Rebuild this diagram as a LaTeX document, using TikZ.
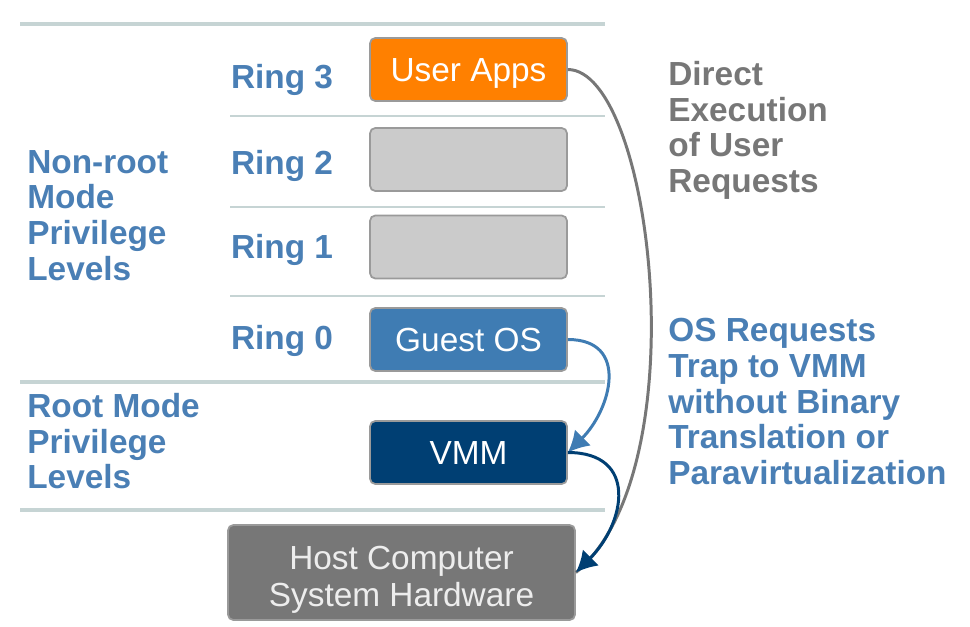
\documentclass[tikz,border=0pt]{standalone}
\usepackage{fontspec}
\setmainfont{Liberation Sans}
\usetikzlibrary{arrows.meta}
\definecolor{ringblue}{HTML}{4A7FB5}
\definecolor{guestblue}{HTML}{3F7CB3}
\definecolor{vmmblue}{HTML}{003F73}
\definecolor{appsorange}{HTML}{FF8000}
\definecolor{emptygray}{HTML}{CBCBCB}
\definecolor{hostgray}{HTML}{777777}
\definecolor{boxedge}{HTML}{9A9A9A}
\definecolor{sepline}{HTML}{C6D4D4}
\definecolor{notegray}{HTML}{777777}
\tikzset{ringlabel/.style={font=\fontsize{19pt}{20.3pt}\selectfont\bfseries,
        text=ringblue, inner sep=0pt},
    modelabel/.style={ringlabel, align=left, anchor=north west},
    levelbox/.style={draw=boxedge, line width=1pt, rounded corners=3pt,
        minimum width=3.94cm, minimum height=1.26cm, inner sep=0pt,
        text height=13.6pt, text depth=0pt,
        font=\fontsize{19pt}{21pt}\selectfont, text=white},
    septhick/.style={draw=sepline, line width=2.3pt},
    septhin/.style={draw=sepline, line width=1pt},
    trap/.style={line width=1.7pt, -{Latex[length=12pt,width=13pt]}},
    }
\begin{document}
\begin{tikzpicture}[x=0.02cm, y=-0.02cm]
\useasboundingbox (0,0) rectangle (970,626);
% separators
\draw[septhick] (20,24) -- (605,24);
\draw[septhin] (230,116) -- (605,116);
\draw[septhin] (230,207) -- (605,207);
\draw[septhin] (230,296) -- (605,296);
\draw[septhick] (20,382) -- (605,382);
\draw[septhick] (20,510) -- (605,510);
% rings
\node[levelbox, fill=appsorange] (apps) at (468.5,69.5) {User Apps};
\node[levelbox, fill=emptygray] (ringtwo) at (468.5,159.5) {};
\node[levelbox, fill=emptygray] (ringone) at (468.5,247) {};
\node[levelbox, fill=guestblue] (guest) at (468.5,339.5) {Guest OS};
\node[levelbox, fill=vmmblue] (vmm) at (468.5,452.5) {VMM};
\node[levelbox, fill=hostgray, minimum width=6.94cm, minimum height=1.9cm,
    text height=, text depth=, align=center, text=white!93!black] (host)
    at (401.5,572.5) {\rule{0pt}{22pt}Host Computer\\System Hardware};
\node[ringlabel] (rthree) at (282,80) {Ring 3};
\node[ringlabel] (rtwo) at (282,166) {Ring 2};
\node[ringlabel] (rone) at (282,250) {Ring 1};
\node[ringlabel] (rzero) at (282,341) {Ring 0};
% modes
\node[modelabel] (nonroot) at (27,150) {Non-root\\Mode\\Privilege\\Levels};
\node[modelabel] (root) at (27,393) {Root Mode\\Privilege\\Levels};
% notes
\node[modelabel, text=notegray] (direct) at (668,61)
    {Direct\\Execution\\of User\\Requests};
\node[modelabel] (trapnote) at (668,318)
    {OS Requests\\Trap to VMM\\without Binary\\Translation or\\Paravirtualization};
% traps
\draw[notegray, line width=1.7pt] (apps.east) .. controls (652,70) and (700,470) .. (host.east);
\draw[trap, guestblue] (guest.east) to[out=0, in=45, looseness=1.4] (vmm.east);
\draw[trap, vmmblue] (vmm.east) to[out=0, in=45, looseness=1.5] (host.east);
\end{tikzpicture}
\end{document}
